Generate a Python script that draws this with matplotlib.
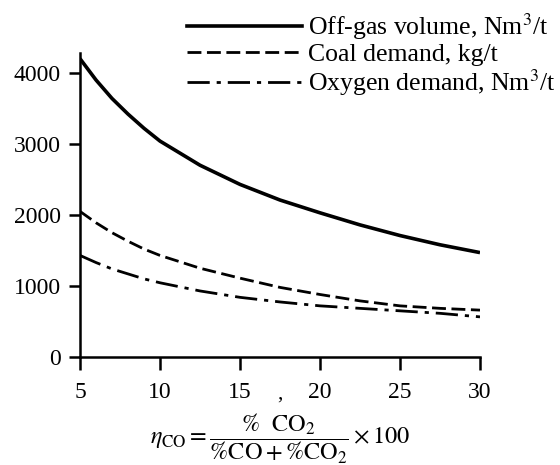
import matplotlib
matplotlib.use("Agg")
import matplotlib.pyplot as plt
from matplotlib.lines import Line2D

# CO utilisation values (%) at which the curves were read
eta = [5, 6, 7, 8, 9, 10, 12.5, 15, 17.5, 20, 22.5, 25, 27.5, 30]

offgas_volume = [4200, 3900, 3640, 3420, 3220, 3040, 2700, 2430, 2210, 2030, 1860, 1710, 1580, 1470]
coal_demand = [2050, 1890, 1750, 1630, 1520, 1430, 1250, 1110, 980, 880, 790, 720, 685, 660]
oxygen_demand = [1430, 1330, 1240, 1170, 1100, 1045, 930, 840, 775, 720, 685, 650, 615, 565]

x_ticks = [5, 10, 15, 20, 25, 30]
y_ticks = [0, 1000, 2000, 3000, 4000]

labels = ["Off-gas volume, Nm$^3$/t", "Coal demand, kg/t", "Oxygen demand, Nm$^3$/t"]

plt.rcParams["font.family"] = ["Liberation Serif", "DejaVu Serif"]
plt.rcParams["mathtext.fontset"] = "stix"

fig = plt.figure(figsize=(5.6, 4.65), dpi=100)
ax = fig.add_axes([80 / 560, 1 - 357 / 465, 400 / 560, 304 / 465])

ax.plot(eta, offgas_volume, color="black", lw=2.6, solid_capstyle="butt")
ax.plot(eta, coal_demand, color="black", lw=2.0, dashes=(5, 2))
ax.plot(eta, oxygen_demand, color="black", lw=2.0, dashes=(8, 2.5, 1.5, 2.5))

ax.set_xlim(5, 30)
ax.set_ylim(0, 4280)
ax.set_xticks(x_ticks)
ax.set_yticks(y_ticks)
ax.tick_params(axis="both", direction="out", width=1.8, labelsize=17, colors="black")
ax.tick_params(axis="x", length=9, pad=9)
ax.tick_params(axis="y", length=8, pad=6)

for side in ("top", "right"):
    ax.spines[side].set_visible(False)
for side in ("left", "bottom"):
    ax.spines[side].set_linewidth(1.8)

ax.set_xlabel(r"$\eta_{\mathrm{CO}} = \dfrac{\%\ \ \mathrm{CO_2}}{\%\mathrm{CO} + \%\mathrm{CO_2}} \times 100$",
              fontsize=17.5, labelpad=6)

# stray comma printed between the 15 and 20 labels
fig.text(280 / 560, 1 - 399 / 465, ",", fontsize=15, ha="center", va="baseline")

handles = [
    Line2D([], [], color="black", lw=2.6),
    Line2D([], [], color="black", lw=2.0, dashes=(5, 2)),
    Line2D([], [], color="black", lw=2.0, dashes=(8, 2.5, 1.5, 2.5)),
]
fig.legend(handles, labels, loc="upper right", bbox_to_anchor=(556 / 560, 1 - 11 / 465),
           frameon=False, fontsize=18.5, handlelength=4.45, handletextpad=0.25,
           labelspacing=0.05, borderpad=0, borderaxespad=0)

fig.savefig("out.png", dpi=100)
